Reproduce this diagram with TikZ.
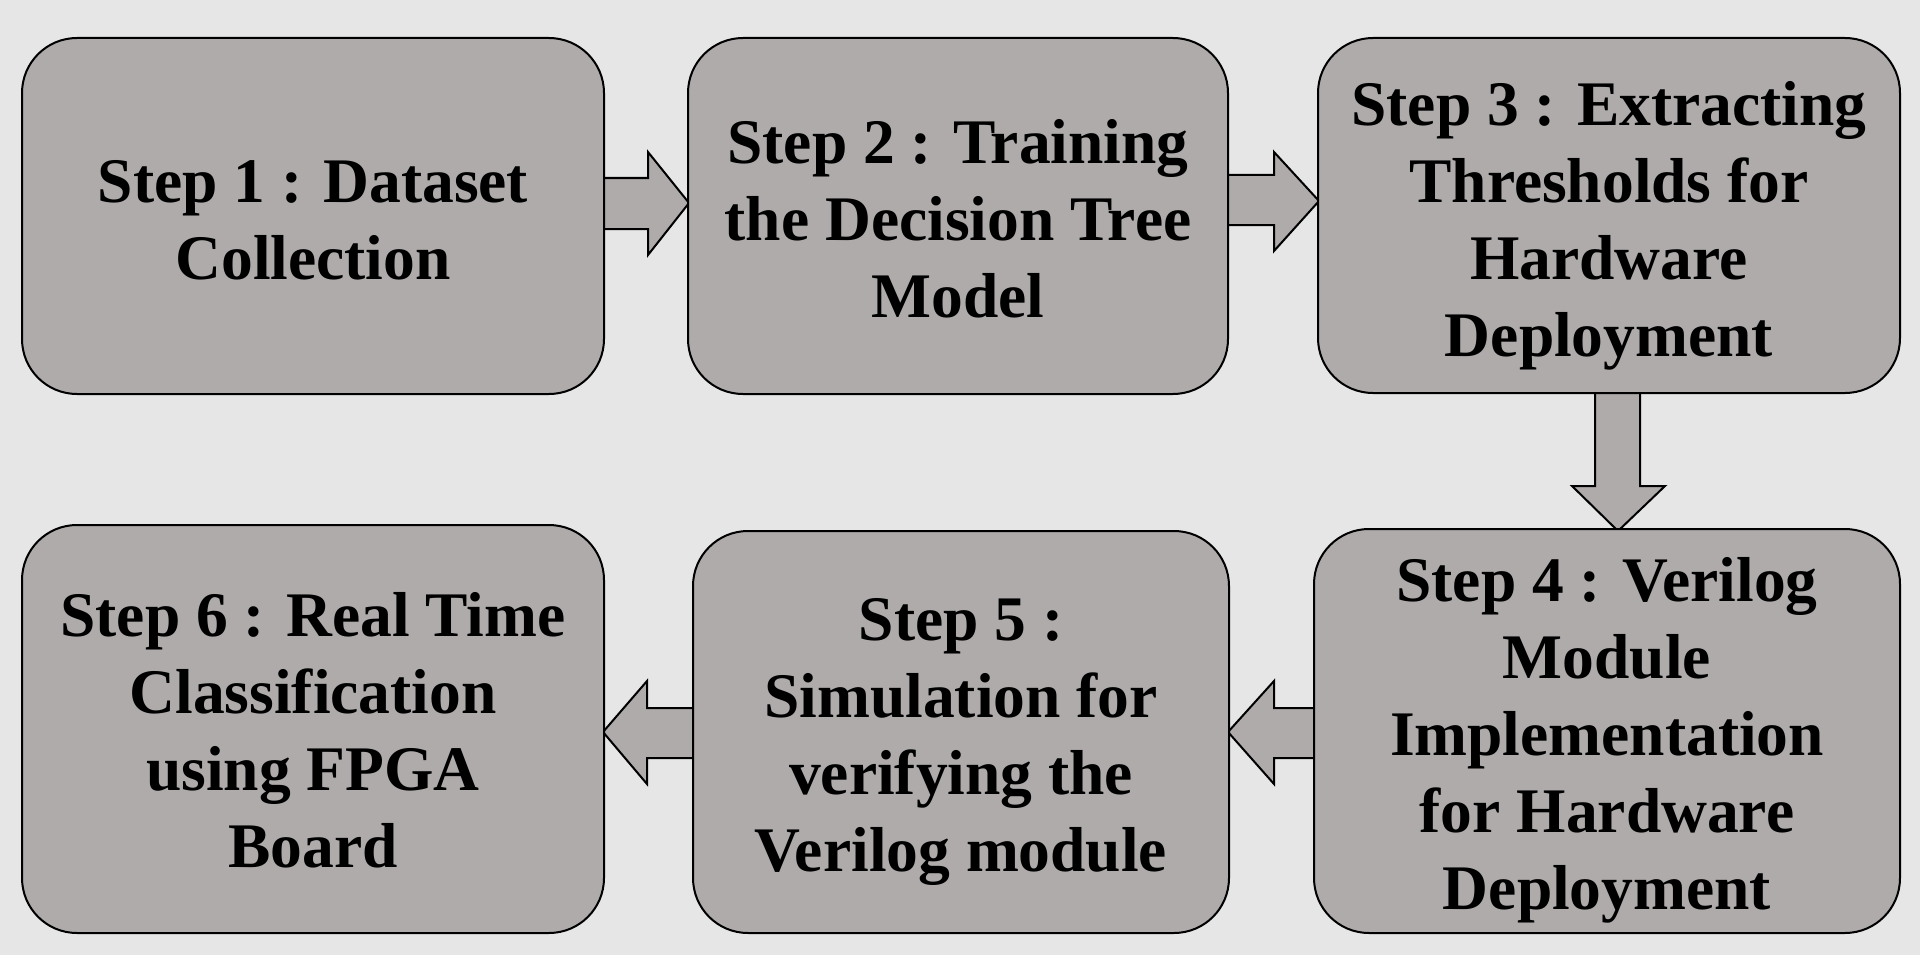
\documentclass[tikz,border=0pt]{standalone}
\usepackage{fontspec}
\setmainfont{Liberation Serif}
\usetikzlibrary{calc,backgrounds}
\definecolor{pagebg}{HTML}{E6E6E6}
\definecolor{boxfill}{HTML}{AFABAB}
\tikzset{
  stepbox/.style={draw=black, line width=2pt, fill=boxfill, rounded corners=55pt,
    inner sep=0pt},
  steptext/.style={align=center, inner sep=0pt,
    font=\bfseries\fontsize{63.5}{77}\selectfont},
  blockarrow/.style={draw=black, line width=2pt, fill=boxfill, line join=miter}
}
\begin{document}
\begin{tikzpicture}[x=1pt,y=-1pt]
\useasboundingbox (0,0) rectangle (1920,955);
\node[stepbox, minimum width=582pt, minimum height=356pt] (b1) at (313,216) {};
\node[steptext, yshift=-4pt] (t1) at (b1.center) {Step 1 : Dataset\\Collection};
\node[stepbox, minimum width=540pt, minimum height=356pt] (b2) at (958,216) {};
\node[steptext, yshift=-3pt] (t2) at (b2.center) {Step 2 : Training\\the Decision Tree\\Model};
\node[stepbox, minimum width=582pt, minimum height=355pt] (b3) at (1609,215.5) {};
\node[steptext, yshift=-10pt] (t3) at (b3.center) {Step 3 : Extracting\\Thresholds for\\Hardware\\Deployment};
\node[stepbox, minimum width=586pt, minimum height=404pt] (b4) at (1607,731) {};
\node[steptext, yshift=-9pt] (t4) at (b4.center) {Step 4 : Verilog\\Module\\Implementation\\for Hardware\\Deployment};
\node[stepbox, minimum width=536pt, minimum height=402pt] (b5) at (961,732) {};
\node[steptext, yshift=-10pt] (t5) at (b5.center) {Step 5 :\\Simulation for\\verifying the\\Verilog module};
\node[stepbox, minimum width=582pt, minimum height=408pt] (b6) at (313,729) {};
\node[steptext, yshift=-1pt] (t6) at (b6.center) {Step 6 : Real Time\\Classification\\using FPGA\\Board};
\begin{scope}[on background layer]
\fill[pagebg] (0,0) rectangle (1920,955);
% 1 -> 2
\draw[blockarrow] ($(b1.east)+(0,-38)$) -- ++(43,0) -- ++(0,-26) -- ++(41,51) -- ++(-41,52) -- ++(0,-26) -- ++(-43,0);
% 2 -> 3
\draw[blockarrow] ($(b2.east)+(0,-41)$) -- ++(45,0) -- ++(0,-23) -- ++(45,49) -- ++(-45,50) -- ++(0,-26) -- ++(-45,0);
% 3 -> 4
\draw[blockarrow] ($(b3.south)+(-14,0)$) -- ++(0,92) -- ++(-23,0) -- ++(46,45) -- ++(47,-45) -- ++(-25,0) -- ++(0,-92);
% 4 -> 5
\draw[blockarrow] ($(b4.west)+(0,-23)$) -- ++(-39,0) -- ++(0,-27) -- ++(-46,51) -- ++(46,52) -- ++(0,-26) -- ++(39,0);
% 5 -> 6
\draw[blockarrow] ($(b5.west)+(0,-24)$) -- ++(-45,0) -- ++(0,-27) -- ++(-44,51) -- ++(44,52) -- ++(0,-26) -- ++(45,0);
\end{scope}
\end{tikzpicture}
\end{document}
